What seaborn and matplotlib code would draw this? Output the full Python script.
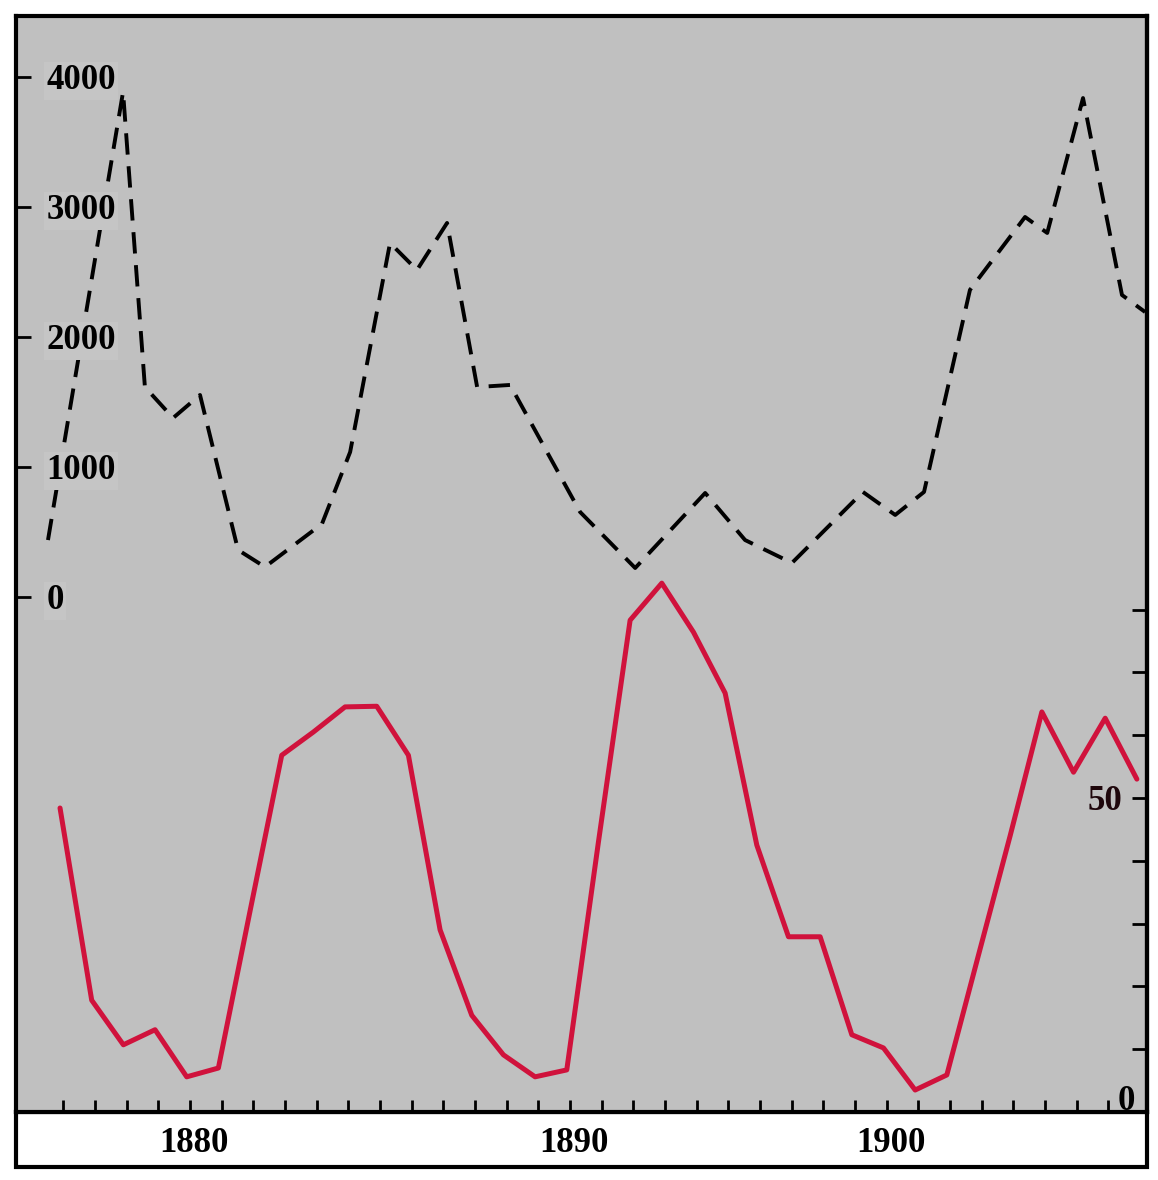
import numpy as np
import pandas as pd
import matplotlib
matplotlib.use("Agg")
import matplotlib.pyplot as plt
import matplotlib.transforms as mtransforms
from matplotlib.patches import Rectangle
import seaborn as sns

# ---------------- data ----------------
dash_years = [1873.62, 1875.99, 1876.68, 1877.57, 1878.42, 1879.62, 1880.47,
              1882.27, 1883.16, 1884.42, 1885.27, 1886.22, 1887.17, 1888.21,
              1890.42, 1892.16, 1894.37, 1895.63, 1897.11, 1899.35, 1900.37,
              1901.28, 1902.73, 1904.47, 1905.17, 1906.30, 1907.53, 1908.26]
dash_values = [438, 3885, 1615, 1377, 1554, 362, 231,
               562, 1115, 2723, 2515, 2877, 1615, 1631,
               654, 223, 800, 438, 262, 808, 631,
               808, 2362, 2923, 2800, 3838, 2323, 2192]

red_years = list(range(1874, 1909))
red_values = [48.4, 17.8, 10.7, 13.1, 5.6, 7.0, 32.0, 56.8, 60.5, 64.5,
              64.6, 56.8, 29.0, 15.4, 9.1, 5.6, 6.7, 43.0, 78.3, 84.2,
              76.4, 66.7, 42.5, 27.9, 27.9, 12.3, 10.2, 3.5, 5.9, 25.0,
              44.0, 63.7, 54.1, 62.7, 53.0]

left_ticks = [0, 1000, 2000, 3000, 4000]
left_labels = ["0", "1000", "2000", "3000", "4000"]
right_ticks = [0, 10, 20, 30, 40, 50, 60, 70, 80]
right_labels = ["", "", "", "", "", "50", "", "", ""]
x_minor_ticks = [1874.1 + i for i in range(34)]
x_major_ticks = [1878.22, 1890.22, 1900.22]
x_major_labels = ["1880", "1890", "1900"]

# ---------------- style ----------------
sns.set_theme(style="white")
plt.rcParams["font.family"] = ["Liberation Serif", "DejaVu Serif"]

W, H = 1158, 1180
L, R, T, B = 16, 1147, 16, 1112
BG = "#c0c0c0"
fig = plt.figure(figsize=(W / 100, H / 100), dpi=100)
fig.patch.set_facecolor("white")
ax = fig.add_axes([L / W, 1 - B / H, (R - L) / W, (B - T) / H])
ax.set_facecolor(BG)
ax.set_axisbelow(False)

df_dash = pd.DataFrame({"year": dash_years, "value": dash_values})
df_red = pd.DataFrame({"year": red_years, "value": red_values})

sns.lineplot(data=df_dash, x="year", y="value", ax=ax, color="black",
             linewidth=2.8, sort=False)
ax.lines[-1].set_linestyle((0, (5.5, 3)))
ax.lines[-1].set_zorder(2)

ax2 = ax.twinx()
sns.lineplot(data=df_red, x="year", y="value", ax=ax2, color="#d0123c",
             linewidth=3.6, sort=False)

# limits mapping the picture's pixels
ax.set_xlim(1872.61, 1908.32)
ax.set_ylim(-3961.5, 4469)
ax2.set_ylim(0, 174.5)

ax.set_xlabel("")
ax.set_ylabel("")
ax2.set_xlabel("")
ax2.set_ylabel("")

font = dict(family=["Liberation Serif", "DejaVu Serif"], weight="bold", size=25)

# x ticks
ax.set_xticks(x_major_ticks)
ax.set_xticklabels(x_major_labels, color="black", **font)
ax.set_xticks(x_minor_ticks, minor=True)
ax.tick_params(axis="x", which="major", direction="in", length=18, width=2,
               pad=11, color="black")
ax.tick_params(axis="x", which="minor", direction="in", length=9, width=2,
               color="black", bottom=True)

# left y ticks (labels inside the frame, masking the dashed line)
ax.set_yticks(left_ticks)
ax.set_yticklabels(left_labels, color="black", **font)
ax.tick_params(axis="y", direction="in", length=11, width=2, pad=-22,
               color="black")
for lab in ax.get_yticklabels():
    lab.set_horizontalalignment("left")
    lab.set_bbox(dict(facecolor="#c5c5c5", edgecolor="none", pad=1.5))

# right y ticks
ax2.set_yticks(right_ticks)
ax2.set_yticklabels(right_labels, color="#1e060b", **font)
ax2.tick_params(axis="y", direction="in", length=11, width=2, pad=-17.5,
                color="black")
for lab in ax2.get_yticklabels():
    lab.set_horizontalalignment("right")

trans = mtransforms.blended_transform_factory(ax2.transAxes, ax2.transData)
ax2.text((1135 - L) / (R - L), 0.3, "0", transform=trans, ha="right",
         va="baseline", color="black", **font)

# spines
for s in ["left", "right", "top", "bottom"]:
    ax.spines[s].set_color("black")
    ax.spines[s].set_linewidth(3)
for s in ["left", "top", "bottom"]:
    ax2.spines[s].set_visible(False)
ax2.spines["right"].set_color("black")
ax2.spines["right"].set_linewidth(3)

# white label box beneath the plot
box = Rectangle((L / W, 1 - 1167 / H), (R - L) / W, (1167 - B) / H,
                transform=fig.transFigure, facecolor="white",
                edgecolor="black", linewidth=3, zorder=-1)
fig.patches.append(box)

fig.savefig("out.png", dpi=100, facecolor="white")
